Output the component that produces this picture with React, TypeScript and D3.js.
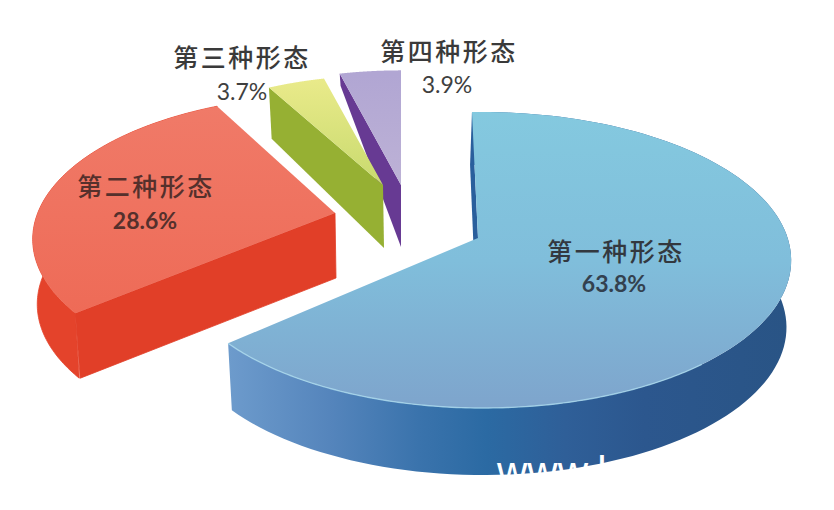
import React from "react";
import * as d3 from "d3";

// data
const categories = ["第一种形态", "第二种形态", "第三种形态", "第四种形态"];
const shares = [63.8, 28.6, 3.7, 3.9];
const shareLabels = ["63.8%", "28.6%", "3.7%", "3.9%"];

// layout of the exploded perspective pie
const WIDTH = 834;
const HEIGHT = 510;
const RADIUS = 305;
const DEPTH_RATIO = 144.7;
const toRad = Math.PI / 180;

const sliceLayout = [
  { ox: 478, oy: 238, rs: 1, p: 0.1487, q: 0.015, pad0: 0, pad1: 0, h: 67, radialDx: -2, radialOuter: 1, arcWall: true },
  { ox: 335, oy: 213, rs: 0.96, p: 0.18, q: -0.015, pad0: 2.5, pad1: 1, h: 65, radialDx: 1, radialOuter: 1, arcWall: true },
  { ox: 383, oy: 185, rs: 0.87, p: 0.1487, q: 0, pad0: -0.4, pad1: 0.6, h: 63, radialDx: 1, radialOuter: 1, arcWall: false },
  { ox: 401, oy: 185, rs: 0.91, p: 0.1487, q: 0, pad0: 0.7, pad1: 1.3, h: 62, radialDx: 0, radialOuter: 0.25, arcWall: false },
];
const sliceFills = [
  { top: "url(#blueTop)", radial: "#2a5f9c", arc: "url(#blueSide)" },
  { top: "url(#redTop)", radial: "#e13f28", arc: "#e4432b" },
  { top: "url(#yellowTop)", radial: "#96b033", arc: "#96b033" },
  { top: "url(#purpleTop)", radial: "#673a93", arc: "#673a93" },
];
const labelLayout = [
  { name: [616, 261], value: [614, 292], nameFill: "#33383f", valueFill: "#33414f", weight: 700 },
  { name: [146, 196], value: [145, 229], nameFill: "#55302c", valueFill: "#55302c", weight: 700 },
  { name: [242, 67], value: [242, 100], nameFill: "#3a3a3a", valueFill: "#3f3f3f", weight: 400 },
  { name: [449, 61], value: [447, 93], nameFill: "#3a3a3a", valueFill: "#3f3f3f", weight: 400 },
];

const pieAngles = d3
  .pie<number>()
  .sort(null)
  .startAngle(-1.3 * toRad)
  .endAngle(358.7 * toRad)(shares);

type Layout = (typeof sliceLayout)[number];

function topPoint(l: Layout, angle: number) {
  const u = Math.sin(angle);
  const v = -Math.cos(angle);
  const s = 1 / (1 - l.p * v - l.q * u);
  return { x: l.ox + RADIUS * l.rs * u * s, y: l.oy + DEPTH_RATIO * l.rs * v * s, s };
}
function wallDrop(l: Layout, s: number) {
  return l.h * Math.min(1, Math.pow(s, 1.7));
}
function bottomPoint(l: Layout, angle: number) {
  const p = topPoint(l, angle);
  return { x: l.ox + (p.x - l.ox) * 0.985, y: p.y + wallDrop(l, p.s) };
}

const line = d3
  .line<{ x: number; y: number }>()
  .x((d) => d.x)
  .y((d) => d.y);

function samples(a0: number, a1: number) {
  return d3.range(0, 121).map((i) => a0 + ((a1 - a0) * i) / 120);
}

export default function App() {
  const slices = pieAngles.map((d, i) => {
    const l = sliceLayout[i];
    const a0 = d.startAngle + l.pad0 * toRad;
    const a1 = d.endAngle + l.pad1 * toRad;
    const angles = samples(a0, a1);
    const apex = { x: l.ox, y: l.oy };
    const apexBottom = { x: l.ox + l.radialDx, y: l.oy + l.h };
    const outerTop = topPoint(l, a0);
    const outerBottom = {
      x: l.ox + (outerTop.x - l.ox) * 0.985 + l.radialDx,
      y: outerTop.y + wallDrop(l, outerTop.s) * l.radialOuter,
    };
    const top = line([apex, ...angles.map((a) => topPoint(l, a))]) + "Z";
    const radial = line([outerTop, outerBottom, apexBottom, apex]) + "Z";
    const arc =
      line([...angles.map((a) => topPoint(l, a)), ...angles.slice().reverse().map((a) => bottomPoint(l, a))]) + "Z";
    return { i, l, top, radial, arc, a0, a1 };
  });
  const blue = slices[0];
  const rim = line(samples(140 * toRad, blue.a1).map((a) => topPoint(blue.l, a))) ?? "";
  const order = [3, 2, 1, 0];

  return (
    <svg
      width={WIDTH}
      height={HEIGHT}
      viewBox={`0 0 ${WIDTH} ${HEIGHT}`}
      style={{ position: "absolute", left: 0, top: 0, display: "block", background: "#fff" }}
    >
      <defs>
        <linearGradient id="blueTop" gradientUnits="userSpaceOnUse" x1="0" y1="112" x2="0" y2="410">
          <stop offset="0" stopColor="#84c9df" />
          <stop offset="0.5" stopColor="#80bedb" />
          <stop offset="1" stopColor="#7ea4cc" />
        </linearGradient>
        <linearGradient id="blueSide" gradientUnits="userSpaceOnUse" x1="228" y1="0" x2="790" y2="0">
          <stop offset="0" stopColor="#6d9bcc" />
          <stop offset="0.18" stopColor="#5585bc" />
          <stop offset="0.34" stopColor="#3a73ac" />
          <stop offset="0.46" stopColor="#2b6aa3" />
          <stop offset="0.6" stopColor="#2f5f98" />
          <stop offset="0.74" stopColor="#2c578e" />
          <stop offset="1" stopColor="#295485" />
        </linearGradient>
        <linearGradient id="redTop" gradientUnits="userSpaceOnUse" x1="0" y1="107" x2="0" y2="312">
          <stop offset="0" stopColor="#f07a68" />
          <stop offset="1" stopColor="#ee6b57" />
        </linearGradient>
        <linearGradient id="yellowTop" gradientUnits="userSpaceOnUse" x1="0" y1="80" x2="0" y2="185">
          <stop offset="0" stopColor="#e9ea8a" />
          <stop offset="1" stopColor="#c8da6e" />
        </linearGradient>
        <linearGradient id="purpleTop" gradientUnits="userSpaceOnUse" x1="0" y1="75" x2="0" y2="185">
          <stop offset="0" stopColor="#b1a6d3" />
          <stop offset="1" stopColor="#bdb2d6" />
        </linearGradient>
      </defs>

      {order.map((i) => {
        const s = slices[i];
        const f = sliceFills[i];
        return (
          <g key={categories[i]}>
            {s.l.arcWall && <path d={s.arc} fill={f.arc} stroke={i === 1 ? f.arc : "none"} strokeWidth={0.8} />}
            <path d={s.radial} fill={f.radial} stroke={i === 1 ? f.radial : "none"} strokeWidth={0.8} />
            <path d={s.top} fill={f.top} />
          </g>
        );
      })}
      <path d={rim} fill="none" stroke="#a9d8ec" strokeWidth={1.4} strokeOpacity={0.8} />

      {categories.map((c, i) => {
        const t = labelLayout[i];
        return (
          <g key={c}>
            <text
              x={t.name[0]}
              y={t.name[1]}
              textAnchor="middle"
              fontFamily="'Noto Sans CJK SC', sans-serif"
              fontSize={25}
              fontWeight={500}
              letterSpacing={2.5}
              fill={t.nameFill}
            >
              {c}
            </text>
            <text
              x={t.value[0]}
              y={t.value[1]}
              textAnchor="middle"
              fontFamily="Lato, sans-serif"
              fontSize={23}
              fontWeight={t.weight}
              fill={t.valueFill}
            >
              {shareLabels[i]}
            </text>
          </g>
        );
      })}

      <text x={497} y={486} fontFamily="'Liberation Sans', sans-serif" fontSize={42} fill="#ffffff">
        www.b
      </text>
    </svg>
  );
}
